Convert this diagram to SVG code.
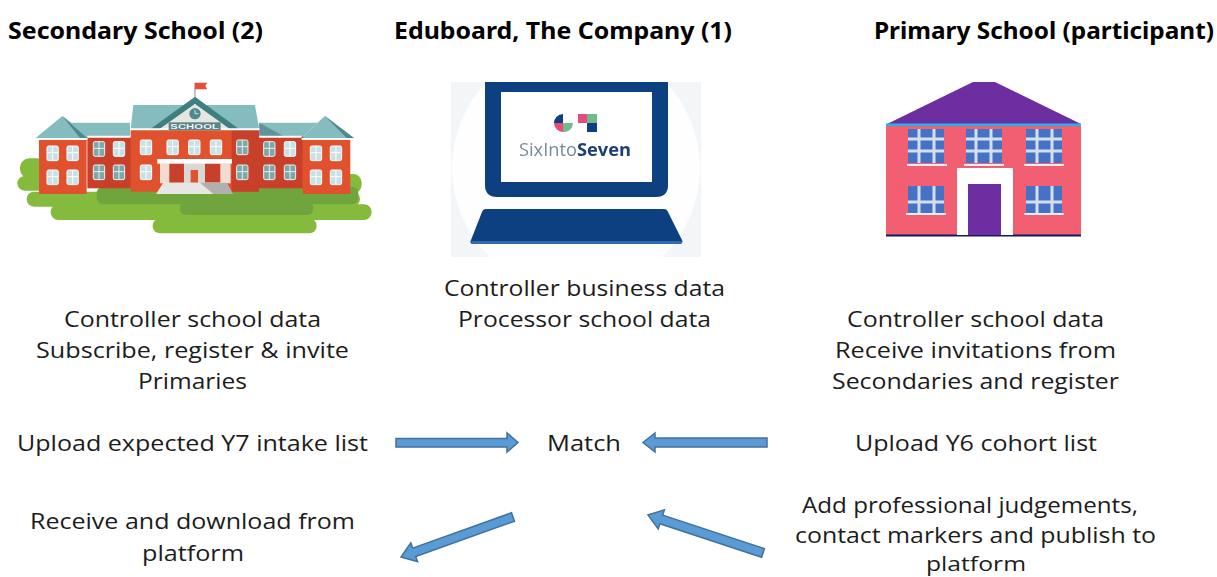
<svg xmlns="http://www.w3.org/2000/svg" xmlns:xlink="http://www.w3.org/1999/xlink" width="1217" height="577" viewBox="0 0 1217 577">
<style>
.h{font-family:"Noto Sans","Open Sans","Liberation Sans",sans-serif;font-weight:700;font-size:23px;fill:#000}
.t{font-family:"Open Sans","Noto Sans","Liberation Sans",sans-serif;font-size:21.5px;fill:#1c1c1c}
.arrow{fill:#5b9bd5;stroke:#41719c;stroke-width:1.5}
.sw{fill:#c8e0e6;stroke:#fff;stroke-width:3}
.swd{fill:#7fa6a8;stroke:#e8f0f0;stroke-width:3}
.hw{fill:#4472c4;stroke:none}
.hb{stroke:#d5dff2;stroke-width:3}
.soft{filter:url(#soft)}
</style>
<defs>
<filter id="soft" x="-5%" y="-5%" width="110%" height="110%"><feGaussianBlur stdDeviation="0.45"/></filter>
<clipPath id="bgclip"><rect x="451" y="82" width="250" height="175"/></clipPath>
<g id="win"><rect class="sw" x="-17" y="0" width="34" height="44" rx="5"/><path d="M0 0V44M-17 20H17" stroke="#fff" stroke-width="3"/></g>
<g id="wind"><rect class="swd" x="-17" y="0" width="34" height="44" rx="5"/><path d="M0 0V44M-17 20H17" stroke="#e8f0f0" stroke-width="3"/></g>
</defs>
<rect width="1217" height="577" fill="#fff"/>

<g id="secondary-school">
<text class="h" x="8" y="39" textLength="255" lengthAdjust="spacingAndGlyphs">Secondary School (2)</text>
<g class="soft" transform="translate(0,70) scale(0.3333)">
<g fill="#85bb3c">
<rect x="60" y="265" width="80" height="60" rx="28"/><rect x="52" y="318" width="90" height="44" rx="22"/>
<rect x="80" y="365" width="1000" height="45" rx="22"/><rect x="152" y="403" width="963" height="47" rx="23"/>
<rect x="458" y="445" width="492" height="45" rx="22"/><rect x="1030" y="312" width="55" height="58" rx="25"/>
</g>
<rect x="290" y="350" width="785" height="53" rx="20" fill="#6fa53c"/>
<rect x="540" y="395" width="400" height="40" rx="18" fill="#6fa53c"/>
<path d="M107 204L187 138L262 204Z" fill="#85bcc0"/>
<path d="M187 138L215 158H390V204H262Z" fill="#85bcc0"/>
<path d="M187 138L262 204H240Z" fill="#4e8a8e"/>
<path d="M1062 204L975 138L905 204Z" fill="#85bcc0"/>
<path d="M975 138L958 158H778V204H905Z" fill="#85bcc0"/>
<path d="M975 138L1062 204H1040Z" fill="#4e8a8e"/>
<path d="M778 158L850 198H778Z" fill="#5f9498"/>
<path d="M400 105H765L778 178H392Z" fill="#85bcc0"/>
<path d="M450 178L585 80L718 178H690L585 102L478 178Z" fill="#3f7f80"/>
<path d="M478 178L585 102L690 178Z" fill="#e6e6e0"/>
<rect x="262" y="200" width="135" height="155" fill="#c8412a"/>
<rect x="775" y="200" width="135" height="155" fill="#c8412a"/>
<rect x="117" y="210" width="143" height="162" fill="#e0512d"/>
<rect x="908" y="210" width="143" height="162" fill="#e0512d"/>
<rect x="392" y="180" width="385" height="185" fill="#e0512d"/>
<rect x="695" y="180" width="82" height="185" fill="#c8412a"/>
<path d="M107 204H262V210H107ZM905 204H1060V210H905ZM262 197H392V203H262ZM778 197H905V203H778ZM392 175H778V181H392Z" fill="#fff"/>
<circle cx="585" cy="131" r="17" fill="#4e8a8e"/><path d="M585 120V131H595" fill="none" stroke="#e8f0f0" stroke-width="2.5"/>
<rect x="506" y="157" width="156" height="24" fill="#5d8585"/>
<text x="584" y="177" text-anchor="middle" font-family="Liberation Sans,sans-serif" font-weight="700" font-size="23" fill="#eef3f3" textLength="146" lengthAdjust="spacingAndGlyphs">SCHOOL</text>
<path d="M585 82V38" stroke="#8a8a8a" stroke-width="3"/><path d="M585 38H622L616 47L622 58H585Z" fill="#e8503a"/>
<use xlink:href="#win" href="#win" x="158" y="228"/><use href="#win" x="218" y="228"/><use href="#win" x="158" y="300"/><use href="#win" x="218" y="300"/>
<use href="#wind" x="297" y="215"/><use href="#win" x="357" y="215"/><use href="#wind" x="297" y="285"/><use href="#wind" x="357" y="285"/>
<use href="#win" x="438" y="210"/><use href="#win" x="438" y="285"/>
<use href="#win" x="518" y="210"/><use href="#win" x="583" y="210"/><use href="#win" x="648" y="210"/>
<use href="#wind" x="727" y="210"/><use href="#wind" x="727" y="285"/>
<use href="#wind" x="808" y="215"/><use href="#win" x="870" y="215"/><use href="#wind" x="808" y="285"/><use href="#wind" x="870" y="285"/>
<use href="#win" x="948" y="228"/><use href="#win" x="1008" y="228"/><use href="#win" x="948" y="300"/><use href="#win" x="1008" y="300"/>
<rect x="480" y="280" width="212" height="60" fill="#f0dcd0"/>
<rect x="508" y="280" width="44" height="58" fill="#c8412a"/><rect x="615" y="280" width="46" height="58" fill="#c8412a"/>
<rect x="552" y="280" width="63" height="60" fill="#d8d8d4"/><rect x="572" y="300" width="22" height="38" fill="#e0512d"/>
<rect x="472" y="267" width="224" height="14" fill="#fff"/>
<path d="M490 338H680L698 372H468Z" fill="#e8e6e2"/><path d="M600 338H680L698 372H640Z" fill="#b0b0ae"/>
</g>
<text class="t" x="64" y="327" textLength="257" lengthAdjust="spacingAndGlyphs">Controller school data</text>
<text class="t" x="36" y="358" textLength="313" lengthAdjust="spacingAndGlyphs">Subscribe, register &amp; invite</text>
<text class="t" x="138" y="389" textLength="109" lengthAdjust="spacingAndGlyphs">Primaries</text>
<text class="t" x="17" y="451" textLength="351" lengthAdjust="spacingAndGlyphs">Upload expected Y7 intake list</text>
<text class="t" x="30" y="529" textLength="325" lengthAdjust="spacingAndGlyphs">Receive and download from</text>
<text class="t" x="142" y="561" textLength="102" lengthAdjust="spacingAndGlyphs">platform</text>
</g>

<g id="eduboard">
<text class="h" x="394" y="39" textLength="338" lengthAdjust="spacingAndGlyphs">Eduboard, The Company (1)</text>
<g class="soft">
<rect x="451" y="82" width="250" height="175" fill="#f3f6f9"/>
<circle cx="576" cy="168" r="124" fill="#fefefe" clip-path="url(#bgclip)"/>
<path d="M485 82H668V185Q668 197 656 197H497Q485 197 485 185Z" fill="#0f3f80"/>
<rect x="501" y="92" width="151" height="90" fill="#fff"/>
<path d="M486 209H664Q667 209 668 212L682 240Q683 244 679 244H474Q469 244 471 240L482 212Q483 209 486 209Z" fill="#0f3f80"/>
<path d="M471 241H683L681 244H472Z" fill="#2f6cb0"/>
<path d="M563 114A9 9 0 0 0 554 123H563Z" fill="#0f3f80"/>
<path d="M563 123H554A9 9 0 0 0 563 132Z" fill="#ea4a7b"/>
<path d="M563 123V132A9 9 0 0 0 573 123Z" fill="#6fbb8c"/>
<rect x="578" y="114" width="9" height="9" fill="#ea4a7b"/>
<rect x="587" y="114" width="10" height="9" fill="#6fbb8c"/>
<rect x="587" y="123" width="10" height="9" fill="#0f3f80"/>
<text x="519" y="156" font-family="Open Sans,Noto Sans,sans-serif" font-size="18" textLength="112" lengthAdjust="spacingAndGlyphs"><tspan fill="#7a8aa0">SixInto</tspan><tspan fill="#1f3f74" font-weight="700">Seven</tspan></text>
</g>
<text class="t" x="444" y="296" textLength="281" lengthAdjust="spacingAndGlyphs">Controller business data</text>
<text class="t" x="458" y="327" textLength="253" lengthAdjust="spacingAndGlyphs">Processor school data</text>
<text class="t" x="547" y="451" textLength="74" lengthAdjust="spacingAndGlyphs">Match</text>
</g>

<g id="primary-school">
<text class="h" x="874" y="39" textLength="340" lengthAdjust="spacingAndGlyphs">Primary School (participant)</text>
<g class="soft">
<rect x="886" y="125" width="195" height="110" fill="#f25f72"/>
<path d="M887 124L973 82H995L1081 124Z" fill="#6c2da0"/>
<rect x="886" y="123.500" width="195" height="2.500" fill="#22b5e8"/>
<rect x="886" y="234.500" width="195" height="2" fill="#101a5c"/>
<g class="hw"><rect x="908" y="129" width="36" height="34"/><rect x="966" y="129" width="36" height="34"/><rect x="1026" y="129" width="36" height="34"/><rect x="908" y="186" width="36" height="27"/><rect x="1026" y="186" width="36" height="27"/></g>
<path class="hb" d="M919 129V163M934 129V163M908 139H944M908 151H944M976 129V163M991 129V163M966 139H1002M966 151H1002M1037 129V163M1052 129V163M1026 139H1062M1026 151H1062M919 186V213M934 186V213M908 202H944M1037 186V213M1052 186V213M1026 202H1062" fill="none" stroke-width="1.300"/>
<path d="M907 164H947V166H907ZM964 164H1004V166H964ZM1024 164H1064V166H1024ZM906 213H946V215H906ZM1024 213H1064V215H1024Z" fill="#f4eef0"/>
<rect x="957" y="168" width="56" height="67" fill="#fff"/>
<rect x="968" y="184" width="33" height="51" fill="#6c2da0"/>
</g>
<text class="t" x="847" y="327" textLength="257" lengthAdjust="spacingAndGlyphs">Controller school data</text>
<text class="t" x="835" y="358" textLength="281" lengthAdjust="spacingAndGlyphs">Receive invitations from</text>
<text class="t" x="832" y="389" textLength="287" lengthAdjust="spacingAndGlyphs">Secondaries and register</text>
<text class="t" x="855" y="451" textLength="242" lengthAdjust="spacingAndGlyphs">Upload Y6 cohort list</text>
<text class="t" x="802" y="513" textLength="336" lengthAdjust="spacingAndGlyphs">Add professional judgements,</text>
<text class="t" x="795" y="543" textLength="361" lengthAdjust="spacingAndGlyphs">contact markers and publish to</text>
<text class="t" x="926" y="571" style="font-size:20px" textLength="100" lengthAdjust="spacingAndGlyphs">platform</text>
</g>

<g id="connectors">
<path class="arrow" d="M396 438.500H507V433L518 442.500L507 452V447H396Z"/>
<path class="arrow" d="M767 438H655V433L643 442.500L655 452V447H767Z"/>
<path class="arrow" d="M511.500 512.800L412.700 548.100L410.800 542.900L401 557L417.600 561.700L415.700 556.500L514.500 521.200Z"/>
<path class="arrow" d="M764.400 548.700L662.700 515.100L664.400 509.900L648 515L658.200 528.900L659.900 523.700L761.600 557.300Z"/>
</g>
</svg>
